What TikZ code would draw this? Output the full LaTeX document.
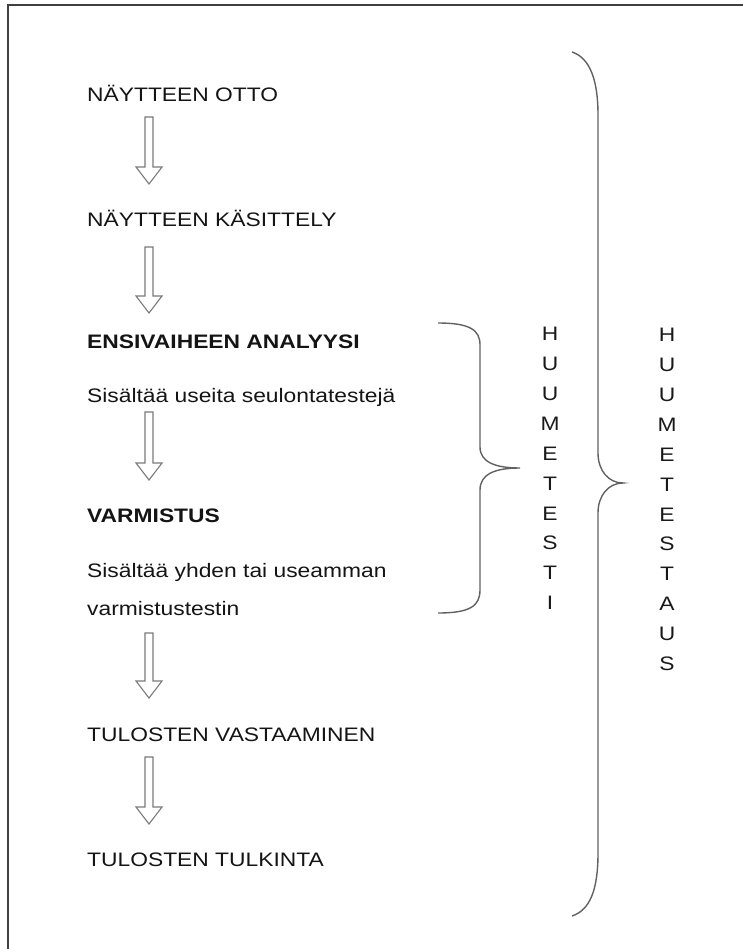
\documentclass[tikz,border=0pt]{standalone}
\usepackage{fontspec}
\setmainfont{Liberation Sans}[FakeStretch=1.17]
\usepackage{tikz}
\usetikzlibrary{positioning}

% hollow block arrow between two heights, shaft centred at x=149
\newcommand{\hollowarrow}[2]{%
  \draw[blockarr] (145,#1) -- (153,#1) -- (153,#2-17) -- (162,#2-17)
    -- (149,#2) -- (136,#2-17) -- (145,#2-17) -- cycle;}

\begin{document}
\begin{tikzpicture}[
  x=1pt, y=-1pt,
  lbl/.style={anchor=base west, inner sep=0pt, text=black!92,
    font=\fontsize{19.5}{23}\selectfont},
  lblb/.style={lbl, font=\fontsize{19.5}{23}\selectfont\bfseries},
  vtext/.style={anchor=north, inner sep=0pt, align=center, text=black!90,
    font=\fontsize{19.5}{29.9}\selectfont},
  blockarr/.style={draw=gray!70!black!80, line width=1.1pt, line join=miter, fill=white},
  brace/.style={draw=black!62, line width=1.4pt},
  frame/.style={draw=black!75, line width=2pt},
]
\useasboundingbox (0,0) rectangle (743,949);

%% FRAME (cropped: only top and left edges show)
\draw[frame] (8,949) -- (8,5) -- (743,5);

%% STEPS
\node[lbl]  (otto)      at (87,102) {NÄYTTEEN OTTO};
\node[lbl]  (kasittely) at (87,227) {NÄYTTEEN KÄSITTELY};
\node[lblb] (ensi)      at (87,348) {ENSIVAIHEEN ANALYYSI};
\node[lbl]  (ensidesc)  at (87,402) {Sisältää useita seulontatestejä};
\node[lblb] (varm)      at (87,522) {VARMISTUS};
\node[lbl]  (varmdesc)  at (87,577) {Sisältää yhden tai useamman};
\node[lbl]  (varmdescb) at (87,615) {varmistustestin};
\node[lbl]  (vastaus)   at (87,741) {TULOSTEN VASTAAMINEN};
\node[lbl]  (tulkinta)  at (87,866) {TULOSTEN TULKINTA};

%% ARROWS
\hollowarrow{117}{184}
\hollowarrow{247}{313}
\hollowarrow{412}{480}
\hollowarrow{633}{698}
\hollowarrow{757}{824}

%% BRACES
\draw[brace] (438,323) .. controls (470,323) and (480,330) .. (480,345)
  -- (480,447) .. controls (480,462) and (495,468) .. (520,468)
  .. controls (495,468) and (480,474) .. (480,490)
  -- (480,590) .. controls (480,606) and (470,613) .. (438,613);

\draw[brace] (572,52) .. controls (590,58) and (598,80) .. (598,115)
  -- (598,453) .. controls (598,470) and (608,483) .. (623,483)
  .. controls (608,483) and (598,496) .. (598,513)
  -- (598,853) .. controls (598,890) and (590,910) .. (572,916);

%% VERTICAL LABELS
\node[vtext] (testi) at (550,327)
  {H\\U\\U\\M\\E\\T\\E\\S\\T\\I};
\node[vtext] (testaus) at (667,328)
  {H\\U\\U\\M\\E\\T\\E\\S\\T\\A\\U\\S};

\end{tikzpicture}
\end{document}
